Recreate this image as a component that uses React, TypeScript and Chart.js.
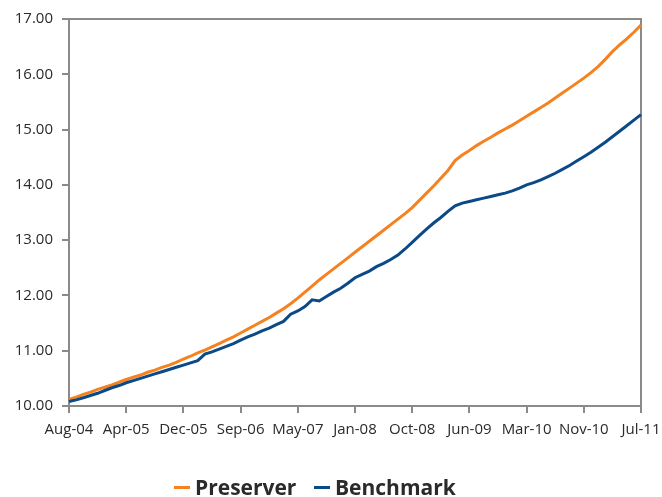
import React, { useEffect, useRef } from "react";
import { Chart, registerables } from "chart.js";

Chart.register(...registerables);

const tickLabels = ["Aug-04", "Apr-05", "Dec-05", "Sep-06", "May-07", "Jan-08", "Oct-08", "Jun-09", "Mar-10", "Nov-10", "Jul-11"];
const pointsPerTick = 8;

const preserver = [
  10.12, 10.16, 10.21, 10.25, 10.30, 10.34, 10.38, 10.43, 10.48,
  10.52, 10.56, 10.61, 10.65, 10.70, 10.74, 10.79, 10.85,
  10.90, 10.96, 11.01, 11.07, 11.13, 11.19, 11.25, 11.32,
  11.39, 11.46, 11.53, 11.60, 11.68, 11.76, 11.85, 11.95,
  12.06, 12.17, 12.28, 12.38, 12.48, 12.58, 12.68, 12.78,
  12.88, 12.98, 13.08, 13.18, 13.28, 13.38, 13.48, 13.59,
  13.72, 13.85, 13.98, 14.12, 14.26, 14.44, 14.54, 14.62,
  14.71, 14.79, 14.86, 14.94, 15.01, 15.08, 15.16, 15.24,
  15.32, 15.40, 15.48, 15.57, 15.66, 15.75, 15.84, 15.93,
  16.03, 16.14, 16.27, 16.41, 16.53, 16.64, 16.76, 16.89,
];

const benchmark = [
  10.08, 10.11, 10.15, 10.19, 10.23, 10.28, 10.33, 10.37, 10.42,
  10.46, 10.50, 10.54, 10.58, 10.62, 10.66, 10.70, 10.74,
  10.78, 10.82, 10.94, 10.98, 11.03, 11.08, 11.13, 11.19,
  11.25, 11.30, 11.36, 11.41, 11.47, 11.53, 11.66, 11.72,
  11.80, 11.92, 11.90, 11.98, 12.06, 12.13, 12.22, 12.32,
  12.38, 12.44, 12.52, 12.58, 12.65, 12.73, 12.84, 12.96,
  13.08, 13.20, 13.31, 13.41, 13.52, 13.62, 13.67, 13.70,
  13.73, 13.76, 13.79, 13.82, 13.85, 13.89, 13.94, 14.00,
  14.04, 14.09, 14.15, 14.21, 14.28, 14.35, 14.43, 14.51,
  14.59, 14.68, 14.77, 14.87, 14.97, 15.07, 15.17, 15.27,
];

const categories = preserver.map((_, i) => String(i));

const ORANGE = "#F5821F";
const BLUE = "#0B4A87";
const AXIS = "#8a8a8a";
const TEXT = "#2a2a2a";
const FONT = "'Open Sans', sans-serif";

const frame = {
  id: "frame",
  beforeDatasetsDraw(chart: any) {
    const { ctx, chartArea } = chart;
    ctx.save();
    ctx.strokeStyle = AXIS;
    ctx.lineWidth = 2;
    ctx.strokeRect(chartArea.left, chartArea.top, chartArea.right - chartArea.left, chartArea.bottom - chartArea.top);
    ctx.restore();
  },
};

export default function App() {
  const ref = useRef<HTMLCanvasElement | null>(null);

  useEffect(() => {
    if (!ref.current) return;
    const chart = new Chart(ref.current, {
      type: "line",
      data: {
        labels: categories,
        datasets: [
          { label: "Preserver", data: preserver, borderColor: ORANGE, backgroundColor: ORANGE, borderWidth: 3, pointRadius: 0, tension: 0, order: 1 },
          { label: "Benchmark", data: benchmark, borderColor: BLUE, backgroundColor: BLUE, borderWidth: 3, pointRadius: 0, tension: 0, order: 0 },
        ],
      },
      options: {
        animation: false,
        responsive: false,
        maintainAspectRatio: false,
        layout: { padding: { left: 0, right: 21, top: 19, bottom: 0 } },
        plugins: { legend: { display: false }, tooltip: { enabled: false } },
        scales: {
          x: {
            type: "category",
            offset: false,
            afterFit: (s: any) => { s.height = 91; s.paddingLeft = 0; s.paddingRight = 0; },
            border: { display: false },
            grid: { drawOnChartArea: false, drawTicks: true, tickLength: 7, tickColor: AXIS, lineWidth: 2, color: AXIS },
            ticks: {
              autoSkip: false,
              maxRotation: 0,
              minRotation: 0,
              padding: 8,
              color: TEXT,
              font: { family: FONT, size: 15 },
              callback: (_v: any, idx: number) => (idx % pointsPerTick === 0 ? tickLabels[idx / pointsPerTick] : null),
            },
          },
          y: {
            min: 10,
            max: 17,
            afterFit: (s: any) => { s.width = 69; s.paddingTop = 0; s.paddingBottom = 0; },
            border: { display: false },
            grid: { drawOnChartArea: false, drawTicks: true, tickLength: 7, tickColor: AXIS, lineWidth: 2, color: AXIS },
            ticks: {
              stepSize: 1,
              padding: 9,
              color: TEXT,
              font: { family: FONT, size: 15 },
              callback: (v: any) => Number(v).toFixed(2),
            },
          },
        },
      },
      plugins: [frame],
    });
    return () => chart.destroy();
  }, []);

  const legendText: React.CSSProperties = {
    position: "absolute",
    fontFamily: FONT,
    fontWeight: 700,
    fontSize: 21,
    lineHeight: "21px",
    color: TEXT,
    whiteSpace: "nowrap",
    top: 477,
  };

  return (
    <div style={{ position: "fixed", left: 0, top: 0, width: 662, height: 497, overflow: "hidden", background: "#fff" }}>
      <canvas ref={ref} width={662} height={497} style={{ position: "absolute", left: 0, top: 0, width: 662, height: 497 }} />
      <div style={{ position: "absolute", left: 174, top: 486, width: 16, height: 3, background: ORANGE }} />
      <span style={{ ...legendText, left: 195 }}>Preserver</span>
      <div style={{ position: "absolute", left: 314, top: 486, width: 16, height: 3, background: BLUE }} />
      <span style={{ ...legendText, left: 335 }}>Benchmark</span>
    </div>
  );
}
